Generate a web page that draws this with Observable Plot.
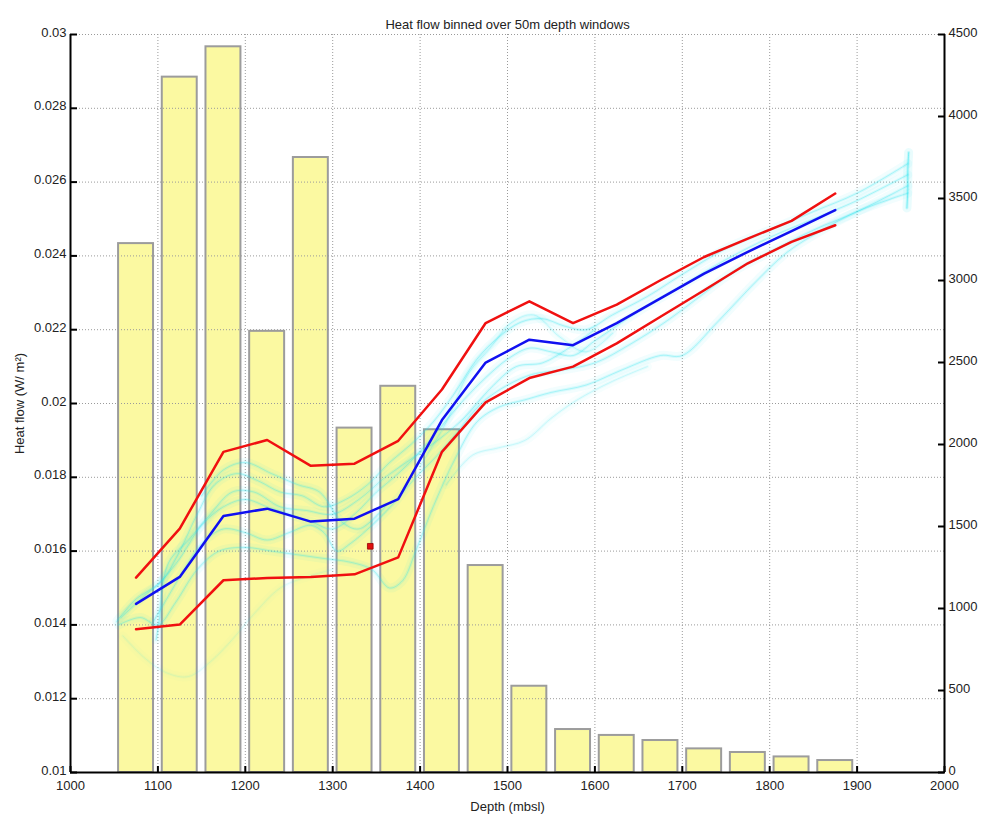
<!DOCTYPE html>
<html><head><meta charset="utf-8">
<script src="https://cdn.jsdelivr.net/npm/d3@7"></script>
<script src="https://cdn.jsdelivr.net/npm/@observablehq/plot@0.6"></script>
<style>body{margin:0;background:#fff}</style>
</head><body><div id="chart"></div>
<script>
// ---- data ----
const title = "Heat flow binned over 50m depth windows";
const binCenters = [1075,1125,1175,1225,1275,1325,1375,1425,1475,1525,1575,1625,1675,1725,1775,1825,1875];
const binCounts  = [3225,4240,4425,2690,3750,2100,2355,2090,1262,526,262,226,195,144,122,95,73];
const meanFlow   = [0.01457,0.01530,0.01695,0.01715,0.01680,0.01688,0.01741,0.01955,0.02111,0.02173,0.02158,0.02218,0.02285,0.02352,0.02411,0.02467,0.02524];
const upperFlow  = [0.01528,0.01661,0.01869,0.01901,0.01831,0.01837,0.01899,0.02038,0.02218,0.02277,0.02218,0.02268,0.02334,0.02397,0.02447,0.02495,0.02569];
const lowerFlow  = [0.01388,0.01401,0.01521,0.01527,0.01530,0.01537,0.01583,0.01869,0.02003,0.02069,0.02100,0.02163,0.02235,0.02307,0.02380,0.02438,0.02483];
const outlier = [[1343, 0.01613]];
const xTicks = [1000,1100,1200,1300,1400,1500,1600,1700,1800,1900,2000];
const yTicks = [0.010,0.012,0.014,0.016,0.018,0.020,0.022,0.024,0.026,0.028,0.030];
const rightTicks = [0,500,1000,1500,2000,2500,3000,3500,4000,4500];

// raw heat-flow traces (cyan cloud)
const trace1 = [[1053,0.0141],[1075,0.0147],[1100,0.0151],[1125,0.0158],[1150,0.0167],[1175,0.0172],[1200,0.0174],[1225,0.0172],[1250,0.0170],[1275,0.0168],[1300,0.0166],[1325,0.0170],[1350,0.0176],[1375,0.0181],[1400,0.0187],[1425,0.0194],[1450,0.0201],[1475,0.0207],[1500,0.0212],[1525,0.0215],[1550,0.0214],[1575,0.0213],[1600,0.0217],[1650,0.0225],[1700,0.0232],[1750,0.0239],[1800,0.0245],[1850,0.0250],[1900,0.0255],[1958,0.0262]];
const trace2 = [[1058,0.0142],[1085,0.0148],[1105,0.0152],[1125,0.0160],[1145,0.0170],[1165,0.0178],[1190,0.0181],[1215,0.0179],[1240,0.0176],[1265,0.0175],[1290,0.0172],[1315,0.0174],[1340,0.0178],[1365,0.0184],[1390,0.0189],[1415,0.0195],[1440,0.0203],[1465,0.0212],[1490,0.0218],[1515,0.0222],[1540,0.0223],[1565,0.0221],[1590,0.0220],[1620,0.0224],[1660,0.0229],[1700,0.0235],[1750,0.0242],[1800,0.0247],[1850,0.0252],[1900,0.0257],[1958,0.0265]];
const trace3 = [[1055,0.0140],[1080,0.0142],[1100,0.0140],[1120,0.0146],[1145,0.0155],[1170,0.0160],[1200,0.0161],[1230,0.0160],[1260,0.0159],[1290,0.0158],[1320,0.0157],[1345,0.0155],[1365,0.0150],[1380,0.0152],[1395,0.0160],[1415,0.0172],[1440,0.0185],[1465,0.0195],[1490,0.0199],[1520,0.0201],[1550,0.0203],[1590,0.0205],[1630,0.0209],[1675,0.0213],[1700,0.0213],[1740,0.0222],[1780,0.0232],[1820,0.0241],[1860,0.0247],[1900,0.0252],[1958,0.0257]];
const trace4 = [[1095,0.0141],[1110,0.0147],[1130,0.0155],[1150,0.0162],[1175,0.0166],[1200,0.0165],[1225,0.0163],[1250,0.0165],[1275,0.0167],[1290,0.0165],[1305,0.0160],[1320,0.0162],[1345,0.0167],[1370,0.0173],[1395,0.0180],[1420,0.0186],[1445,0.0193],[1470,0.0200],[1500,0.0205],[1530,0.0208],[1560,0.0209],[1600,0.0211],[1640,0.0216],[1680,0.0222],[1720,0.0229],[1760,0.0236],[1800,0.0241],[1850,0.0247],[1900,0.0252],[1958,0.0259]];
const trace5 = [[1098,0.0136],[1102,0.0142],[1104,0.0148],[1108,0.0154],[1115,0.0158],[1135,0.0163],[1160,0.0170],[1185,0.0176],[1210,0.0176],[1240,0.0172],[1270,0.0171],[1300,0.0170],[1330,0.0174],[1360,0.0180],[1390,0.0185],[1420,0.0190],[1450,0.0196],[1480,0.0204],[1510,0.0210],[1540,0.0211],[1570,0.0215],[1600,0.0220]];
const trace6 = [[1060,0.0137],[1085,0.0131],[1110,0.0127],[1135,0.0126],[1160,0.0130],[1185,0.0136],[1210,0.0143],[1240,0.0150],[1270,0.0153],[1300,0.0155]];
const trace7 = [[1400,0.0183],[1430,0.0195],[1455,0.0208],[1480,0.0215],[1505,0.0222],[1530,0.0224],[1560,0.0218],[1590,0.0214],[1620,0.0219]];
const trace8 = [[1430,0.0178],[1460,0.0186],[1490,0.0188],[1520,0.0190],[1550,0.0196],[1580,0.0201],[1620,0.0206],[1660,0.0210]];
const trace9 = [[1957,0.0253],[1958,0.0258],[1958,0.0263],[1959,0.0268]];
const trace10 = [[1150,0.0175],[1175,0.0182],[1200,0.0184],[1230,0.0181],[1260,0.0178],[1285,0.0176],[1310,0.0168],[1330,0.0166],[1360,0.0172]];
const traceWeight = [1, 1, 1, 1, 1, 0.35, 0.7, 0.6, 1.6, 1];

// ---- build tables ----
const toLeft = c => 0.01 + c / 4500 * 0.02;      // right-axis count -> left-axis units
const toRight = v => Math.round((v - 0.01) / 0.02 * 4500);
const bars = binCenters.map((c, i) => ({center: c, count: binCounts[i]}));
const stats = binCenters.map((c, i) => ({depth: c, mean: meanFlow[i], upper: upperFlow[i], lower: lowerFlow[i]}));
const traces = [trace1,trace2,trace3,trace4,trace5,trace6,trace7,trace8,trace9,trace10]
  .flatMap((t, k) => t.map(([d, v]) => ({depth: d, hf: v, id: k, w: traceWeight[k]})));
const byId = d3.groups(traces, d => d.id).map(([id, pts]) => ({id, pts, w: pts[0].w}));

const cyan = "#1fe3ee";
const cyanMarks = byId.flatMap(({pts, w}) => [
  Plot.line(pts, {x: "depth", y: "hf", stroke: cyan, strokeWidth: 9, strokeOpacity: 0.06 * w, curve: "catmull-rom"}),
  Plot.line(pts, {x: "depth", y: "hf", stroke: cyan, strokeWidth: 3, strokeOpacity: 0.12 * w, curve: "catmull-rom"}),
  Plot.line(pts, {x: "depth", y: "hf", stroke: cyan, strokeWidth: 0.8, strokeOpacity: Math.min(1, 0.35 * w), curve: "catmull-rom"})
]);
const rightTickPos = rightTicks.map(toLeft);

const chart = Plot.plot({
  width: 981, height: 814,
  marginLeft: 70, marginRight: 37, marginTop: 34, marginBottom: 42,
  style: {fontFamily: "'Liberation Sans', Arial, Helvetica, sans-serif", fontSize: "13px", background: "#fff", color: "#222"},
  x: {domain: [1000, 2000]},
  y: {domain: [0.01, 0.03]},
  marks: [
    Plot.rect(bars, {x1: d => d.center - 20, x2: d => d.center + 20, y1: 0.01, y2: d => toLeft(d.count),
      fill: "#fbf9a1", stroke: "#9c9c9c", strokeWidth: 2}),
    Plot.gridX(xTicks, {stroke: "#9a9a9a", strokeOpacity: 1, strokeDasharray: "1,2"}),
    Plot.gridY(yTicks, {stroke: "#9a9a9a", strokeOpacity: 1, strokeDasharray: "1,2"}),
    ...cyanMarks,
    Plot.line(stats, {x: "depth", y: "upper", stroke: "#f01010", strokeWidth: 2.5}),
    Plot.line(stats, {x: "depth", y: "lower", stroke: "#f01010", strokeWidth: 2.5}),
    Plot.line(stats, {x: "depth", y: "mean", stroke: "#1010f0", strokeWidth: 2.5}),
    Plot.dot(outlier, {x: d => d[0], y: d => d[1], symbol: "square", r: 3.2, fill: "#e01010", stroke: "#900", strokeWidth: 0.8}),
    Plot.ruleX([1000, 2000], {stroke: "#000", strokeWidth: 2}),
    Plot.ruleY([0.01], {stroke: "#000", strokeWidth: 2}),
    Plot.axisX(xTicks, {anchor: "bottom", tickSize: -6, tickPadding: 14, tickFormat: d => String(d),
      label: "Depth (mbsl)", labelAnchor: "center", labelArrow: "none", labelOffset: 38, stroke: "#000", strokeWidth: 2}),
    // left axis: ticks (inward) and labels
    Plot.axisY(yTicks, {anchor: "left", tickSize: -7, text: null, label: null, stroke: "#000", strokeWidth: 2}),
    Plot.axisY(yTicks, {anchor: "left", tickSize: 0, tickPadding: 4, dy: -2, tickFormat: d => String(+d.toFixed(3)),
      label: "Heat flow (W/ m²)", labelAnchor: "center", labelArrow: "none", labelOffset: 56}),
    // right axis: ticks (inward) and labels
    Plot.axisY(rightTickPos, {anchor: "right", tickSize: -7, text: null, label: null, stroke: "#000", strokeWidth: 2}),
    Plot.axisY(rightTickPos, {anchor: "right", tickSize: 0, tickPadding: 4, dy: -2, tickFormat: v => String(toRight(v)), label: null}),
    Plot.text([title], {frameAnchor: "top", dy: -15, fontSize: 13, fill: "#222"})
  ]
});
document.getElementById("chart").appendChild(chart);
</script>
</body></html>
